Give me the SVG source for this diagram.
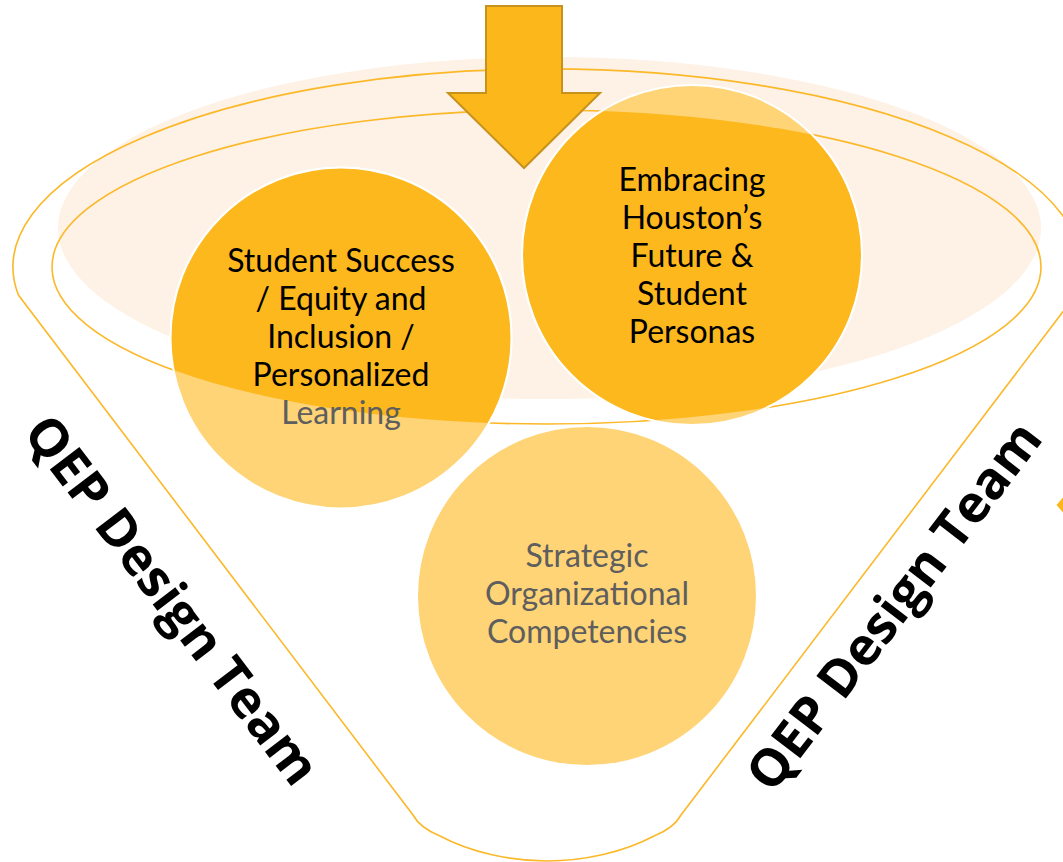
<svg xmlns="http://www.w3.org/2000/svg" width="1063" height="862" viewBox="0 0 1063 862">
<style>
.rim{fill:none;stroke:#FBB829;stroke-width:1.6}
.light{fill:#FED477;stroke:#ffffff;stroke-width:2}
.dark{fill:#FCB81D;stroke:#ffffff;stroke-width:2}
.lbl{font-family:Lato,"Open Sans",sans-serif;font-size:32px;text-anchor:middle}
.blk{fill:#000000}
.gry{fill:#5E5E5E}
.qep{font-family:"Open Sans","DejaVu Sans",sans-serif;font-weight:700;font-size:52px;fill:#000000;text-anchor:middle}
</style>
<defs>
<clipPath id="inner"><ellipse cx="546.5" cy="267" rx="494.5" ry="157"/></clipPath>
</defs>
<rect width="1063" height="862" fill="#ffffff"/>
<g id="funnel">
<ellipse cx="549.5" cy="228" rx="491.5" ry="171" fill="#FEF1E5"/>
<path class="rim" d="M18.4,295 A534,198 0 1 1 1075.6,295 L681,815 Q674,828 654,836 C624,852 584,861 547,861 C510,861 470,852 440,836 Q420,828 413,815 Z"/>
<ellipse class="rim" cx="546.5" cy="267" rx="494.5" ry="157"/>
</g>
<g id="node-student">
<circle class="light" cx="341" cy="338" r="170.5"/>
<circle class="dark" cx="341" cy="338" r="170.5" clip-path="url(#inner)"/>
<text class="lbl blk" x="341" y="272">Student Success</text>
<text class="lbl blk" x="341" y="310">/ Equity and</text>
<text class="lbl blk" x="341" y="348">Inclusion /</text>
<text class="lbl blk" x="341" y="386">Personalized</text>
<text class="lbl gry" x="341" y="424">Learning</text>
</g>
<g id="node-houston">
<circle class="light" cx="692" cy="255" r="170"/>
<circle class="dark" cx="692" cy="255" r="170" clip-path="url(#inner)"/>
<text class="lbl blk" x="692" y="191">Embracing</text>
<text class="lbl blk" x="692" y="229">Houston’s</text>
<text class="lbl blk" x="692" y="267">Future &amp;</text>
<text class="lbl blk" x="692" y="305">Student</text>
<text class="lbl blk" x="692" y="343">Personas</text>
</g>
<g id="node-strategic">
<circle class="light" cx="587" cy="596" r="170"/>
<text class="lbl gry" x="587" y="567">Strategic</text>
<text class="lbl gry" x="587" y="605">Organizational</text>
<text class="lbl gry" x="587" y="643">Competencies</text>
</g>
<g id="connectors">
<path d="M486,6 L562,6 L562,93 L600,93 L524,168 L448,93 L486,93 Z" fill="#FCB71B" stroke="#C6921C" stroke-width="2" stroke-linejoin="miter"/>
<path d="M1056.5,505 L1063,497.5 L1063,512.5 Z" fill="#FCB71B"/>
</g>
<g id="label-left">
<text class="qep" transform="translate(172,600) rotate(52.7)" y="18">QEP Design Team</text>
</g>
<g id="label-right">
<text class="qep" transform="translate(894,606) rotate(-52.6)" y="18">QEP Design Team</text>
</g>
</svg>
